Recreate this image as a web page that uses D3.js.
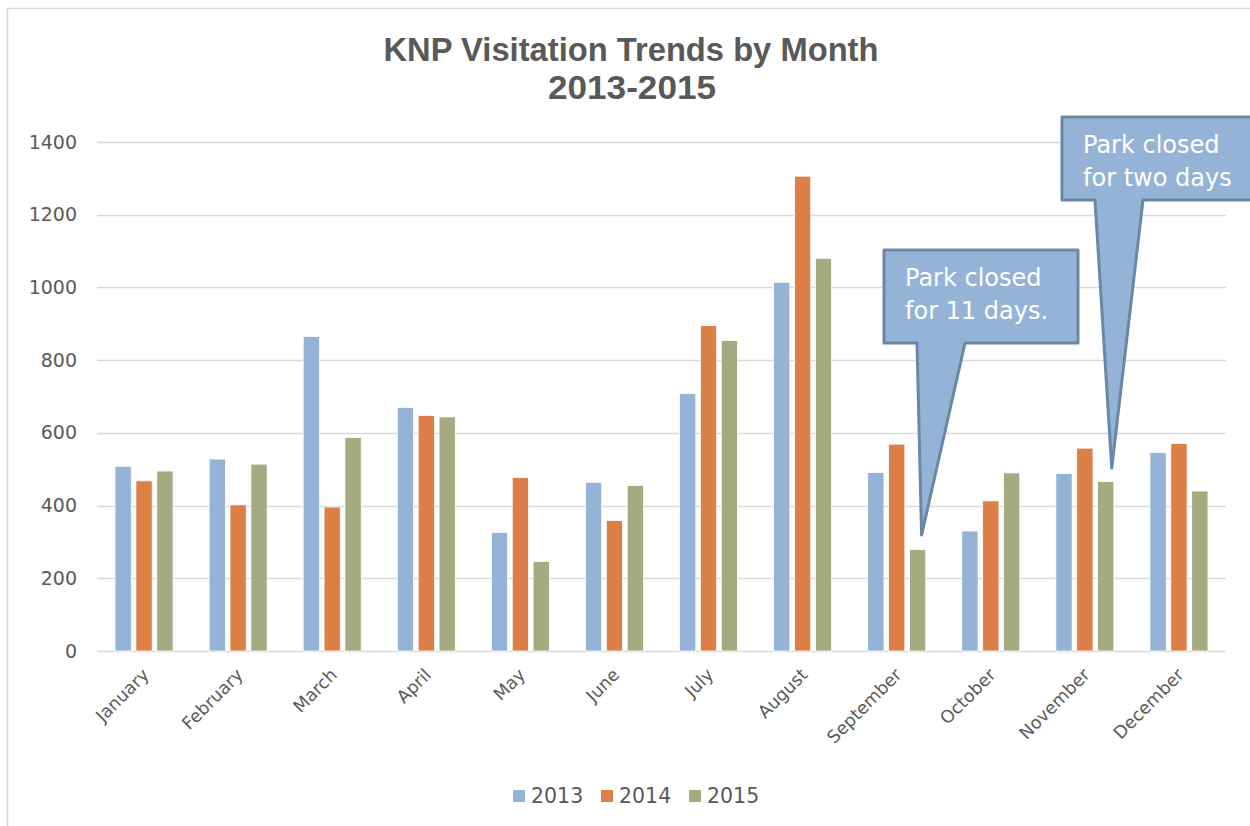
<!DOCTYPE html>
<html>
<head>
<meta charset="utf-8">
<script src="https://cdn.jsdelivr.net/npm/d3@7"></script>
<style>
  body { margin: 0; background: #fff; }
  svg { display: block; }
</style>
</head>
<body>
<div id="chart"></div>
<script>
const months = ['January', 'February', 'March', 'April', 'May', 'June',
  'July', 'August', 'September', 'October', 'November', 'December']
const years = ['2013', '2014', '2015']
const v2013 = [508, 528, 865, 670, 326, 464, 708, 1014, 491, 330, 488, 546]
const v2014 = [468, 402, 396, 648, 477, 359, 895, 1306, 569, 413, 558, 571]
const v2015 = [495, 514, 587, 644, 246, 455, 854, 1080, 279, 490, 466, 440]
const yTicks = [0, 200, 400, 600, 800, 1000, 1200, 1400]
const colors = ['#95b3d7', '#dd8047', '#a5ab81']

// callouts: where the pointer lands (month, year, value) and the text
const notes = [
  { month: 'September', year: '2015', value: 319, lines: ['Park closed', 'for 11 days.'] },
  { month: 'November', year: '2015', value: 503, lines: ['Park closed', 'for two days'] }
]

const w = 1250, h = 826
const margin = { top: 142, right: 24, bottom: 175, left: 97 }
const width = w - margin.left - margin.right
const height = h - margin.top - margin.bottom

const series = [v2013, v2014, v2015]
const data = months.map((m, i) => ({ month: m, values: years.map((y, j) => ({ year: y, value: series[j][i] })) }))

const x0 = d3.scaleBand().domain(months).range([0, width]).paddingInner(0.383).paddingOuter(0.1915)
const x1 = d3.scaleBand().domain(years).range([0, x0.bandwidth()]).paddingInner(0.22)
const y = d3.scaleLinear().domain([0, 1400]).range([height, 0])

const svg = d3.select('#chart').append('svg')
  .attr('width', w)
  .attr('height', h)

// outer chart frame
svg.append('rect')
  .attr('x', 7.5).attr('y', 8.5)
  .attr('width', 1260).attr('height', 840)
  .attr('fill', 'none')
  .attr('stroke', '#d9d9d9')
  .attr('stroke-width', 1.5)

const title = svg.append('g').attr('class', 'title')
  .attr('font-family', '"Liberation Sans Narrow", "Liberation Sans", sans-serif')
  .attr('font-weight', 'bold')
  .attr('font-size', 33)
  .attr('fill', '#595959')
  .attr('text-anchor', 'middle')
title.append('text').attr('x', 631).attr('y', 61)
  .attr('textLength', 495).attr('lengthAdjust', 'spacingAndGlyphs')
  .text('KNP Visitation Trends by Month')
title.append('text').attr('x', 632).attr('y', 99)
  .attr('textLength', 168).attr('lengthAdjust', 'spacingAndGlyphs')
  .text('2013-2015')

let chart = svg.append('g')
  .classed('graph', true)
  .attr('transform', 'translate(' + margin.left + ',' + margin.top + ')')

// gridlines
chart.append('g').attr('class', 'grid')
  .selectAll('line')
  .data(yTicks)
  .enter()
  .append('line')
  .attr('x1', 0).attr('x2', width)
  .attr('y1', d => Math.round(y(d)) + 0.5)
  .attr('y2', d => Math.round(y(d)) + 0.5)
  .attr('stroke', '#d9d9d9')
  .attr('stroke-width', 1.5)

// y axis labels
const yAxis = chart.append('g')
  .classed('y axis', true)
  .call(d3.axisLeft(y).tickValues(yTicks).tickFormat(d3.format('d')).tickSize(0).tickPadding(20))
yAxis.select('.domain').remove()
yAxis.selectAll('text')
  .attr('font-family', '"DejaVu Sans", sans-serif')
  .attr('font-size', 19)
  .attr('fill', '#595959')

// bars
const groups = chart.append('g').attr('class', 'layers')
  .selectAll('g')
  .data(data)
  .enter()
  .append('g')
  .attr('transform', d => 'translate(' + x0(d.month) + ',0)')

groups.selectAll('rect')
  .data(d => d.values)
  .enter()
  .append('rect')
  .attr('x', d => x1(d.year))
  .attr('y', d => y(d.value))
  .attr('width', x1.bandwidth())
  .attr('height', d => height - y(d.value))
  .attr('fill', (d, i) => colors[i])
  .attr('stroke', '#fff')
  .attr('stroke-width', 0.8)

// x axis labels
const xAxis = chart.append('g')
  .classed('x axis', true)
  .attr('transform', 'translate(0,' + height + ')')
  .call(d3.axisBottom(x0).tickSize(0).tickPadding(0))
xAxis.select('.domain').remove()
xAxis.selectAll('text')
  .attr('font-family', '"DejaVu Sans", sans-serif')
  .attr('font-size', 17.5)
  .attr('fill', '#595959')
  .attr('text-anchor', 'end')
  .attr('dy', 0)
  .attr('transform', 'translate(6,25) rotate(-45)')

// callouts
notes.forEach((n, k) => {
  const tipX = x0(n.month) + x1(n.year) + x1.bandwidth() / 2 + (k === 0 ? 4 : 6)
  const tipY = y(n.value)
  const box = k === 0
    ? { x: 787, y: 108, w: 194, h: 93, b0: 820, b1: 868 }
    : { x: 965, y: -25, w: 240, h: 83, b0: 998, b1: 1046 }
  const g = chart.append('g').attr('class', 'callout')
  const pts = [
    [box.x, box.y], [box.x + box.w, box.y], [box.x + box.w, box.y + box.h],
    [box.b1, box.y + box.h], [tipX, tipY], [box.b0, box.y + box.h], [box.x, box.y + box.h]
  ]
  g.append('path')
    .attr('d', 'M' + pts.map(p => p.join(',')).join('L') + 'Z')
    .attr('fill', '#95b3d7')
    .attr('stroke', '#6a87a6')
    .attr('stroke-width', 3)
    .attr('stroke-linejoin', 'round')
  g.selectAll('text')
    .data(n.lines)
    .enter()
    .append('text')
    .attr('x', box.x + 21)
    .attr('y', (d, i) => box.y + 36 + i * 33)
    .attr('font-family', '"DejaVu Sans", sans-serif')
    .attr('font-size', 24)
    .attr('fill', '#fff')
    .text(d => d)
})

// legend
const legend = svg.append('g').attr('class', 'legend')
  .attr('transform', 'translate(513,790)')
const items = legend.selectAll('g')
  .data(years)
  .enter()
  .append('g')
  .attr('transform', (d, i) => 'translate(' + (i * 88) + ',0)')
items.append('rect')
  .attr('width', 12).attr('height', 12)
  .attr('fill', (d, i) => colors[i])
items.append('text')
  .attr('x', 18).attr('y', 13)
  .attr('font-family', '"DejaVu Sans", sans-serif')
  .attr('font-size', 20.5)
  .attr('fill', '#595959')
  .text(d => d)
</script>
</body>
</html>
